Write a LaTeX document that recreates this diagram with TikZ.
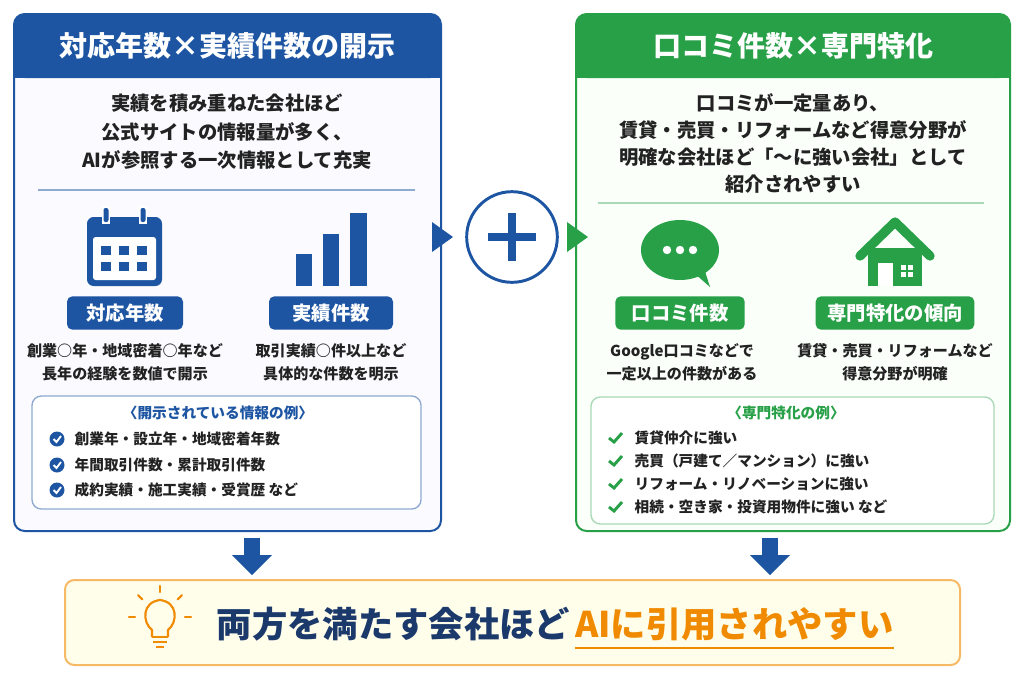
\documentclass[tikz,border=0pt]{standalone}
\usepackage{fontspec}
\setmainfont{Noto Sans CJK JP}
\usetikzlibrary{shapes.geometric,calc}
\definecolor{bl}{HTML}{1D55A3}
\definecolor{gr}{HTML}{27A047}
\definecolor{txt}{HTML}{222222}
\definecolor{navy}{HTML}{1B3A6B}
\definecolor{org}{HTML}{F08A00}
\tikzset{
 body/.style={font=\bfseries\fontsize{14.5}{17}\selectfont,text=txt,align=center},
 desc/.style={font=\bfseries\fontsize{11.3}{17}\selectfont,text=txt,align=center},
 item/.style={font=\bfseries\fontsize{11}{13}\selectfont,text=txt,anchor=west},
 pill/.style={rounded corners=4pt,font=\bfseries\fontsize{14.5}{16}\selectfont,text=white},
 ttl/.style={font=\bfseries\fontsize{21}{24}\selectfont,text=white},
}
\begin{document}
\begin{tikzpicture}[x=0.75pt,y=-0.75pt]
\useasboundingbox (0,0) rectangle (1024,683);
\fill[white] (0,0) rectangle (1024,683);
% left panel
\draw[bl,line width=1.5pt,fill=blue!2,rounded corners=8pt] (14,14) rectangle (441,531);
\fill[bl,rounded corners=8pt] (14,14) rectangle (441,78);
\fill[bl] (14,60) rectangle (441,78);
\node[ttl] (lt) at (227,46) {対応年数×実績件数の開示};
\node[body] (lb1) at (227,103) {実績を積み重ねた会社ほど};
\node[body] (lb2) at (227,132) {公式サイトの情報量が多く、};
\node[body] (lb3) at (227,160) {AIが参照する一次情報として充実};
\draw[bl!50,line width=0.8pt] (38,190) -- (415,190);
% calendar
\fill[bl,rounded corners=5pt] (87,217) rectangle (162,286);
\fill[white,rounded corners=2pt] (93,237) rectangle (156,280);
\foreach \x in {101,119,137} \foreach \y in {246,262} \fill[bl] (\x,\y) rectangle ++(10,9);
\foreach \x in {106,143} {\fill[white] (\x-4,206) rectangle (\x+4,224); \fill[bl,rounded corners=1.5pt] (\x-2.5,208) rectangle (\x+2.5,222);}
% bars
\fill[bl] (296,254) rectangle (312,286);
\fill[bl] (323,234) rectangle (339,286);
\fill[bl] (350,213) rectangle (367,286);
\node[pill,fill=bl,minimum width=87pt,minimum height=25pt] (p1) at (125,313) {対応年数};
\node[pill,fill=bl,minimum width=93pt,minimum height=25pt] (p2) at (331,313) {実績件数};
\node[desc] (d1) at (125,362) {創業○年・地域密着○年など\\長年の経験を数値で開示};
\node[desc] (d2) at (331,362) {取引実績○件以上など\\具体的な件数を明示};
\draw[bl!50,line width=1pt,fill=white,rounded corners=7pt] (32,396) rectangle (421,509);
\node[font=\bfseries\fontsize{11}{13}\selectfont,text=bl] (lx) at (218,413) {〈開示されている情報の例〉};
\foreach \y/\t [count=\i] in {439/創業年・設立年・地域密着年数,465/年間取引件数・累計取引件数,490/成約実績・施工実績・受賞歴 など}{
 \fill[bl] (57,\y) circle (7.5);
 \draw[white,line width=1.4pt] (53.5,\y) -- (56.5,\y+3) -- (61,\y-3);
 \node[item] (li\i) at (70,\y) {\t};}
% right panel
\draw[gr,line width=1.5pt,fill=green!2,rounded corners=8pt] (576,14) rectangle (1010,531);
\fill[gr,rounded corners=8pt] (576,14) rectangle (1010,78);
\fill[gr] (576,60) rectangle (1010,78);
\node[ttl] (rt) at (793,46) {口コミ件数×専門特化};
\node[body] (rb1) at (793,103) {口コミが一定量あり、};
\node[body] (rb2) at (793,130) {賃貸・売買・リフォームなど得意分野が};
\node[body] (rb3) at (793,157) {明確な会社ほど「～に強い会社」として};
\node[body] (rb4) at (793,184) {紹介されやすい};
\draw[gr!40,line width=0.8pt] (598,203) -- (984,203);
% bubble
\fill[gr] (680,250) ellipse (39 and 30);
\fill[gr] (693,272) -- (710,287) -- (702,262) -- cycle;
\foreach \x in {667,680,693} \fill[white] (\x,250) circle (4.2);
% house
\fill[gr] (868,248) rectangle (922,286);
\draw[gr,line width=7pt,line cap=round,line join=round] (860,256) -- (895,222) -- (930,256);
\fill[white] (878,263) rectangle (893,286);
\foreach \x in {901,908} \foreach \y in {265,272} \fill[white] (\x,\y) rectangle ++(5,5);
\node[pill,fill=gr,minimum width=97pt,minimum height=25pt] (p3) at (680,313) {口コミ件数};
\node[pill,fill=gr,minimum width=119pt,minimum height=25pt] (p4) at (895,313) {専門特化の傾向};
\node[desc] (d3) at (682,362) {Google口コミなどで\\一定以上の件数がある};
\node[desc] (d4) at (895,362) {賃貸・売買・リフォームなど\\得意分野が明確};
\draw[gr!40,line width=1pt,fill=white,rounded corners=7pt] (591,397) rectangle (994,524);
\node[font=\bfseries\fontsize{11}{13}\selectfont,text=gr] (rx) at (786,413) {〈専門特化の例〉};
\foreach \y/\t [count=\i] in {438/賃貸仲介に強い,461/売買（戸建て／マンション）に強い,484/リフォーム・リノベーションに強い,507/相続・空き家・投資用物件に強い など}{
 \draw[gr,line width=2.2pt] (609,\y) -- (614,\y+4) -- (622,\y-5);
 \node[item] (ri\i) at (630,\y) {\t};}
% plus
\node[circle,draw=bl,line width=2.2pt,fill=white,minimum size=68pt] (plus) at (512,237) {};
\fill[bl] (488,233) rectangle (536,241);
\fill[bl] (508,213) rectangle (516,261);
\fill[bl] (432,222) -- (453,237) -- (432,252) -- cycle;
\fill[gr] (567,222) -- (588,237) -- (567,252) -- cycle;
% down arrows
\fill[bl] (244,538) rectangle (260,556); \fill[bl] (232,555) -- (272,555) -- (252,575) -- cycle;
\fill[bl] (762,538) rectangle (778,556); \fill[bl] (750,555) -- (790,555) -- (770,575) -- cycle;
% bottom
\draw[org!60,line width=1.5pt,fill=yellow!8,rounded corners=7pt] (65,580) rectangle (960,665);
% bulb
\draw[org,line width=1.6pt] (152,637) -- (152,630) .. controls (142,622) and (142,602) .. (160,600) .. controls (178,602) and (178,622) .. (168,630) -- (168,637);
\draw[org,line width=1.6pt] (152,637) -- (168,637) (153,642) -- (167,642) (156,647) -- (164,647);
\foreach \a in {270,225,315,180,0} \draw[org,line width=1.6pt,line cap=round] ($(160,617)+(\a:25)$) -- ($(160,617)+(\a:31)$);
\node[font=\bfseries\fontsize{26.5}{30}\selectfont,text=navy,anchor=west] (bt1) at (212,624) {両方を満たす会社ほど};
\node[font=\bfseries\fontsize{26.5}{30}\selectfont,text=org,anchor=west,inner xsep=0pt] (bt2) at (bt1.east) {AIに引用されやすい};
\draw[org,line width=2pt] ([yshift=-2pt]bt2.south west) -- ([yshift=-2pt]bt2.south east);
\end{tikzpicture}
\end{document}
